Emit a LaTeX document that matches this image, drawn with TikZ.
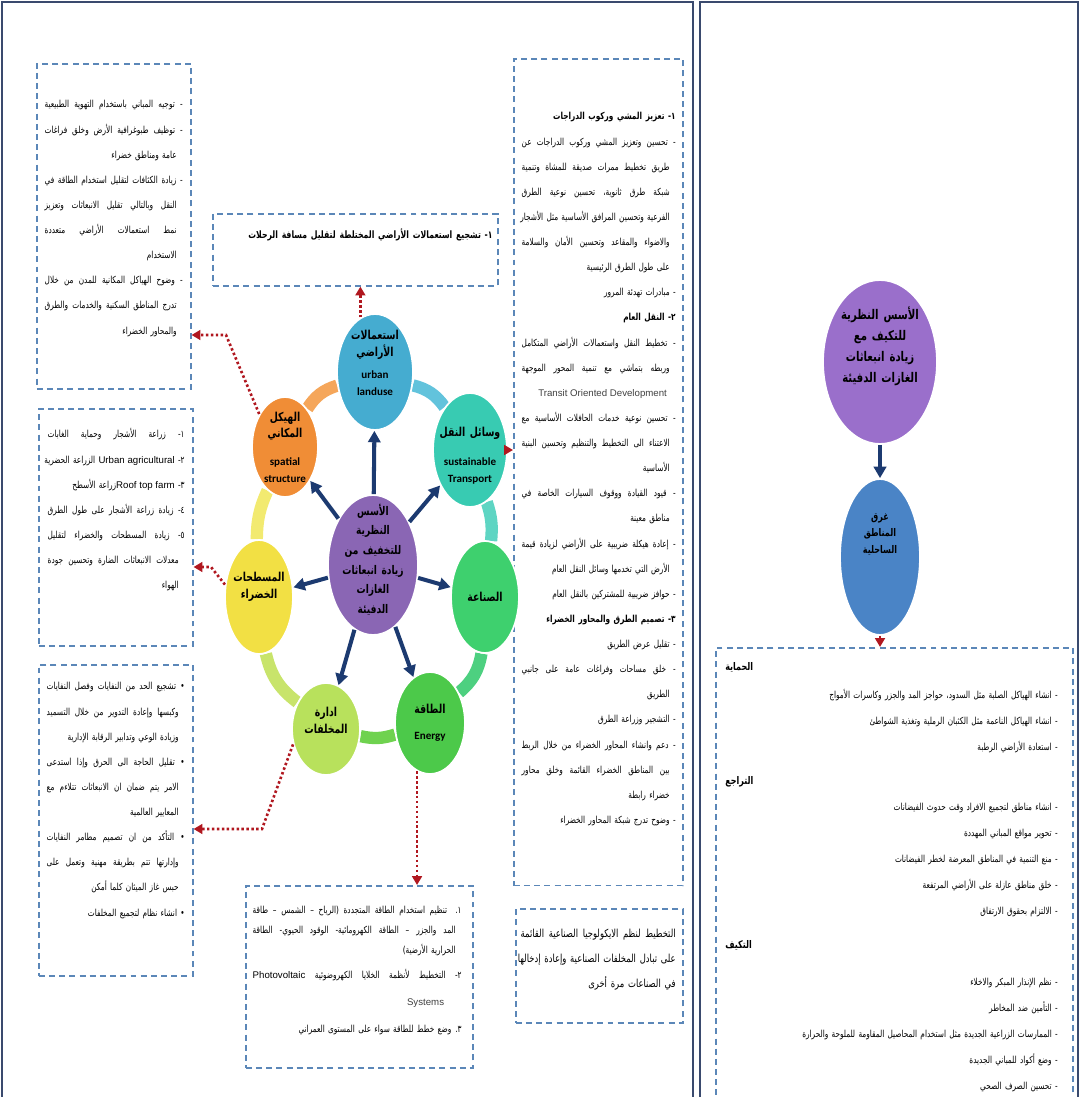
\documentclass[tikz,border=0pt]{standalone}
\usepackage{fontspec}
\usetikzlibrary{arrows.meta,shapes.geometric,backgrounds}
\TeXXeTstate=1
\newfontfamily\arfont[Script=Arabic,FakeStretch=0.76,WordSpace=1.4]{DejaVu Sans}
\newfontfamily\enfont{Carlito}
\newfontfamily\lafont{Liberation Sans}
\definecolor{boxblue}{HTML}{5B87B8}
\definecolor{navyblue}{HTML}{1C3A70}
\definecolor{dotred}{HTML}{B0171F}
\definecolor{frameblue}{HTML}{3A4A6E}
\definecolor{cland}{HTML}{45ACD0}
\definecolor{ctrans}{HTML}{38CBB2}
\definecolor{cind}{HTML}{3ED06E}
\definecolor{cener}{HTML}{4CC94A}
\definecolor{cwaste}{HTML}{B8E15C}
\definecolor{cgreen}{HTML}{F2E044}
\definecolor{cspat}{HTML}{F08D36}
\definecolor{ccen}{HTML}{8A66B4}
\definecolor{cpur}{HTML}{9A6FCB}
\definecolor{cblue}{HTML}{4A84C6}
\definecolor{rA}{HTML}{F5A65A}
\definecolor{rB}{HTML}{62C3DC}
\definecolor{rC}{HTML}{5ED5C3}
\definecolor{rD}{HTML}{4DD080}
\definecolor{rE}{HTML}{6FD24F}
\definecolor{rF}{HTML}{C8E46B}
\definecolor{rG}{HTML}{F2EA70}
\newlength\jw
\newsavebox\lnbox
\newcommand\jr[1]{\sbox\lnbox{\beginR#1\endR}\ifdim\wd\lnbox>\jw\hbox{\strut\usebox\lnbox}\else\hbox to\jw{\strut\beginR#1\endR}\fi}
\newcommand\rr[1]{\hbox{\strut\beginR#1\endR}}
\newcommand\lr[1]{\beginL{\lafont#1}\endL}
\newcommand\hg{\hphantom{-\ }}
\newcommand\en[1]{{\enfont\bfseries\fontsize{6.3}{9}\selectfont#1}}
\newcommand\bodyfont[2]{\arfont\fontsize{#1}{#2}\selectfont}
\begin{document}
\begin{tikzpicture}[x=0.02cm, y=-0.02cm,
  frame/.style={draw=frameblue, line width=1.1pt},
  dbox/.style={rectangle, draw=boxblue, line width=0.9pt, dash pattern=on 3.4pt off 2.4pt, inner sep=0pt, anchor=north west},
  txt/.style={inner sep=0pt, anchor=north east, align=right, text=black},
  hd/.style={inner sep=0pt, anchor=base west, text=black, font=\arfont\bfseries\fontsize{6}{7}\selectfont},
  petal/.style={ellipse, inner sep=0pt, draw=white, line width=1pt},
  ptext/.style={align=center, inner sep=0pt, text=black, draw=none, fill=none, font=\arfont\bfseries\fontsize{7}{9.6}\selectfont},
  ring/.style={line width=7pt},
  navy/.style={draw=navyblue, line width=2.3pt, -{Triangle[length=6.5pt,width=7pt]}},
  dots/.style={draw=dotred, line width=1.5pt, dash pattern=on 1.4pt off 1.4pt, -{Triangle[length=5pt,width=5.5pt]}}]
\useasboundingbox (0,0) rectangle (1080,1097);
\clip (0,0) rectangle (1080,1097);
\draw[frame] (2,2) rectangle (693,1120) (700,2) rectangle (1078,1120);

\node[dbox, minimum width=3.08cm, minimum height=6.5cm] (bsp) at (36,63) {};
\node[dbox, minimum width=3.08cm, minimum height=4.74cm] (bgr) at (38,408) {};
\node[dbox, minimum width=3.08cm, minimum height=6.22cm] (bwa) at (38,664) {};
\node[dbox, minimum width=5.7cm, minimum height=1.44cm] (btop) at (212,213) {};
\node[dbox, minimum width=3.38cm, minimum height=16.54cm] (btr) at (513,58) {};
\node[dbox, minimum width=3.34cm, minimum height=2.28cm] (bind) at (515,908) {};
\node[dbox, minimum width=4.54cm, minimum height=3.64cm] (ben) at (245,885) {};
\node[dbox, minimum width=7.14cm, minimum height=9.5cm] (brp) at (715,647) {};

\node[txt, font={\bodyfont{5.5}{14.3}\setlength\jw{2.76cm}}] (tsp) at (183,90) {%
\jr{- توجيه المباني باستخدام التهوية الطبيعية}\\
\jr{- توظيف طبوغرافية الأرض وخلق فراغات}\\
\rr{\hg عامة ومناطق خضراء}\\
\jr{- زيادة الكثافات لتقليل استخدام الطاقة في}\\
\jr{\hg النقل وبالتالي تقليل الانبعاثات وتعزيز}\\
\jr{\hg نمط استعمالات الأراضي متعددة}\\
\rr{\hg الاستخدام}\\
\jr{- وضوح الهياكل المكانية للمدن من خلال}\\
\jr{\hg تدرج المناطق السكنية والخدمات والطرق}\\
\rr{\hg والمحاور الخضراء}};
\node[txt, font={\bodyfont{5.5}{14.3}\setlength\jw{2.74cm}}] (tgr) at (185,420) {%
\jr{١- زراعة الأشجار وحماية الغابات}\\
\jr{٢- \lr{Urban agricultural} الزراعة الحضرية}\\
\rr{٣- \lr{Roof top farm}زراعة الأسطح}\\
\jr{٤- زيادة زراعة الأشجار على طول الطرق}\\
\jr{٥- زيادة المسطحات والخضراء لتقليل}\\
\jr{\hg معدلات الانبعاثات الضارة وتحسين جودة}\\
\rr{\hg الهواء}};
\node[txt, font={\bodyfont{5.5}{14.3}\setlength\jw{2.76cm}}] (twa) at (185,672) {%
\jr{• تشجيع الحد من النفايات وفصل النفايات}\\
\jr{\hg وكبسها وإعادة التدوير من خلال التسميد}\\
\rr{\hg وزيادة الوعي وتدابير الرقابة الإدارية}\\
\jr{• تقليل الحاجة الى الحرق وإذا استدعى}\\
\jr{\hg الامر يتم ضمان ان الانبعاثات تتلاءم مع}\\
\rr{\hg المعايير العالمية}\\
\jr{• التأكد من ان تصميم مطامر النفايات}\\
\jr{\hg وإدارتها تتم بطريقة مهنية وتعمل على}\\
\rr{\hg حبس غاز الميثان كلما أمكن}\\
\rr{• انشاء نظام لتجميع المخلفات}};
\node[txt, font={\bodyfont{5.8}{14.3}\bfseries\setlength\jw{4.26cm}}] (ttop) at (493,221) {%
\jr{١- تشجيع استعمالات الأراضي المختلطة لتقليل مسافة الرحلات}};
\node[txt, font={\bodyfont{5.5}{14.3}\setlength\jw{3.08cm}}] (ttr) at (676,102) {%
\rr{\bfseries ١- تعزيز المشي وركوب الدراجات}\\
\jr{- تحسين وتعزيز المشي وركوب الدراجات عن}\\
\jr{\hg طريق تخطيط ممرات صديقة للمشاة وتنمية}\\
\jr{\hg شبكة طرق ثانوية، تحسين نوعية الطرق}\\
\jr{\hg الفرعية وتحسين المرافق الأساسية مثل الأشجار}\\
\jr{\hg والاضواء والمقاعد وتحسين الأمان والسلامة}\\
\rr{\hg على طول الطرق الرئيسية}\\
\rr{- مبادرات تهدئة المرور}\\
\rr{\bfseries ٢- النقل العام}\\
\jr{- تخطيط النقل واستعمالات الأراضي المتكامل}\\
\jr{\hg وربطه بتماشي مع تنمية المحور الموجهة}\\
\hbox{\strut\lafont\color{black!75}Transit Oriented Development\hspace{5pt}}\\
\jr{- تحسين نوعية خدمات الحافلات الأساسية مع}\\
\jr{\hg الاعتناء الى التخطيط والتنظيم وتحسين البنية}\\
\rr{\hg الأساسية}\\
\jr{- قيود القيادة ووقوف السيارات الخاصة في}\\
\rr{\hg مناطق معينة}\\
\jr{- إعادة هيكلة ضريبية على الأراضي لزيادة قيمة}\\
\rr{\hg الأرض التي تخدمها وسائل النقل العام}\\
\rr{- حوافز ضريبية للمشتركين بالنقل العام}\\
\rr{\bfseries ٣- تصميم الطرق والمحاور الخضراء}\\
\rr{- تقليل عرض الطريق}\\
\jr{- خلق مساحات وفراغات عامة على جانبي}\\
\rr{\hg الطريق}\\
\rr{- التشجير وزراعة الطرق}\\
\jr{- دعم وانشاء المحاور الخضراء من خلال الربط}\\
\jr{\hg بين المناطق الخضراء القائمة وخلق محاور}\\
\rr{\hg خضراء رابطة}\\
\rr{- وضوح تدرج شبكة المحاور الخضراء}};
\node[txt, font={\bodyfont{6.3}{14.2}\setlength\jw{3.1cm}}] (tind) at (676,920) {%
\jr{التخطيط لنظم الايكولوجيا الصناعية القائمة}\\
\jr{على تبادل المخلفات الصناعية وإعادة إدخالها}\\
\rr{في الصناعات مرة أخرى}};
\node[txt, font={\bodyfont{5.5}{11.4}\setlength\jw{4.18cm}}] (ten) at (462,899) {%
\jr{١. تنظيم استخدام الطاقة المتجددة (الرياح – الشمس – طاقة}\\
\jr{\hg المد والجزر – الطاقة الكهرومائية- الوقود الحيوي- الطاقة}\\
\rr{\hg الحرارية الأرضية)}\\[3pt]
\jr{٢- التخطيط لأنظمة الخلايا الكهروضوئية \lr{Photovoltaic}}\\[4pt]
\hbox{\strut\lafont\color{black!75}Systems\hspace{10pt}}\\[4pt]
\rr{٣. وضع خطط للطاقة سواء على المستوى العمراني}};

\node[hd] (th1) at (725,670) {\beginR الحماية\endR};
\node[hd] (th2) at (725,784) {\beginR التراجع\endR};
\node[hd] (th3) at (725,948) {\beginR التكيف\endR};
\node[txt, font={\bodyfont{5.5}{14.74}}] (tg1) at (1058,680) {%
\rr{- انشاء الهياكل الصلبة مثل السدود، حواجز المد والجزر وكاسرات الأمواج}\\
\rr{- انشاء الهياكل الناعمة مثل الكثبان الرملية وتغذية الشواطئ}\\
\rr{- استعادة الأراضي الرطبة}};
\node[txt, font={\bodyfont{5.5}{14.74}}] (tg2) at (1058,792) {%
\rr{- انشاء مناطق لتجميع الافراد وقت حدوث الفيضانات}\\
\rr{- تحوير مواقع المباني المهددة}\\
\rr{- منع التنمية في المناطق المعرضة لخطر الفيضانات}\\
\rr{- خلق مناطق عازلة على الأراضي المرتفعة}\\
\rr{- الالتزام بحقوق الارتفاق}};
\node[txt, font={\bodyfont{5.5}{14.74}}] (tg3) at (1058,967) {%
\rr{- نظم الإنذار المبكر والاخلاء}\\
\rr{- التأمين ضد المخاطر}\\
\rr{- الممارسات الزراعية الجديدة مثل استخدام المحاصيل المقاومة للملوحة والحرارة}\\
\rr{- وضع أكواد للمباني الجديدة}\\
\rr{- تحسين الصرف الصحي}};

\node[petal, fill=cland, minimum width=1.52cm, minimum height=2.32cm,
  label={[ptext,yshift=5pt]center:{\beginR استعمالات\endR\\\beginR الأراضي\endR\\[3pt]\en{urban}\\\en{landuse}}}] (uland) at (375,372) {};
\node[petal, fill=ctrans, minimum width=1.48cm, minimum height=2.28cm,
  label={[ptext,yshift=-3pt]center:{\beginR وسائل النقل\endR\\[7pt]\en{sustainable}\\\en{Transport}}}] (trans) at (470,450) {};
\node[petal, fill=cind, minimum width=1.36cm, minimum height=2.24cm,
  label={[ptext]center:{\beginR الصناعة\endR}}] (ind) at (485,597) {};
\node[petal, fill=cener, minimum width=1.4cm, minimum height=2.04cm,
  label={[ptext]center:{\beginR الطاقة\endR\\[5pt]\en{Energy}}}] (ener) at (430,723) {};
\node[petal, fill=cwaste, minimum width=1.36cm, minimum height=1.84cm,
  label={[ptext,yshift=5pt]center:{\beginR ادارة\endR\\\beginR المخلفات\endR}}] (waste) at (326,729) {};
\node[petal, fill=cgreen, minimum width=1.36cm, minimum height=2.28cm,
  label={[ptext,yshift=6pt]center:{\beginR المسطحات\endR\\\beginR الخضراء\endR}}] (green) at (259,597) {};
\node[petal, fill=cspat, minimum width=1.32cm, minimum height=2cm,
  label={[ptext]center:{\beginR الهيكل\endR\\\beginR المكاني\endR\\[6pt]\en{spatial}\\\en{structure}}}] (spat) at (285,447) {};
\node[petal, fill=ccen, minimum width=1.8cm, minimum height=2.8cm,
  label={[ptext,yshift=3pt,font=\arfont\bfseries\fontsize{6.8}{11.2}\selectfont]center:{\beginR الأسس\endR\\\beginR النظرية\endR\\\beginR للتخفيف من\endR\\\beginR زيادة انبعاثات\endR\\\beginR الغازات\endR\\\beginR الدفيئة\endR}}] (cen) at (373,565) {};
\node[petal, fill=cpur, minimum width=2.28cm, minimum height=3.28cm,
  label={[ptext,yshift=9pt,font=\arfont\bfseries\fontsize{7.6}{12}\selectfont]center:{\beginR الأسس النظرية\endR\\\beginR للتكيف مع\endR\\\beginR زيادة انبعاثات\endR\\\beginR الغازات الدفيئة\endR}}] (rpur) at (880,362) {};
\node[petal, fill=cblue, minimum width=1.6cm, minimum height=3.12cm,
  label={[ptext,yshift=13pt,font=\arfont\bfseries\fontsize{6}{9.4}\selectfont]center:{\beginR غرق\endR\\\beginR المناطق\endR\\\beginR الساحلية\endR}}] (rblue) at (880,557) {};

\begin{scope}[on background layer]
\fill[white] (0,0) rectangle (1080,1097);
\draw[ring, rA] (spat) to[bend left=20] (uland);
\draw[ring, rB] (uland) to[bend left=20] (trans);
\draw[ring, rC] (trans) to[bend left=12] (ind);
\draw[ring, rD] (ind) to[bend left=20] (ener);
\draw[ring, rE] (ener) to[bend left=15] (waste);
\draw[ring, rF] (waste) to[bend left=20] (green);
\draw[ring, rG] (green) to[bend left=12] (spat);
\end{scope}

\foreach \p in {uland,trans,ind,ener,waste,green,spat}
  \draw[navy] (cen) -- (\p);
\draw[navy] (rpur) -- (rblue);

\coordinate (kspat) at (226,335);
\coordinate (kgreen) at (211,567);
\coordinate (kwaste) at (262,829);
\draw[dots] (uland.105) -- (uland.105 |- btop.south);
\draw[dots] (spat.128) -- (kspat) -- (kspat -| bsp.east);
\draw[dots] (trans.east) -- (trans.east -| btr.west);
\draw[dots] (green.160) -- (kgreen) -- (kgreen -| bgr.east);
\draw[dots] (waste.205) -- (kwaste) -- (kwaste -| bwa.east);
\draw[dots] (ener.255) -- (ener.255 |- ben.north);
\draw[dots] (rblue.south) -- (rblue.south |- brp.north);
\end{tikzpicture}
\end{document}
